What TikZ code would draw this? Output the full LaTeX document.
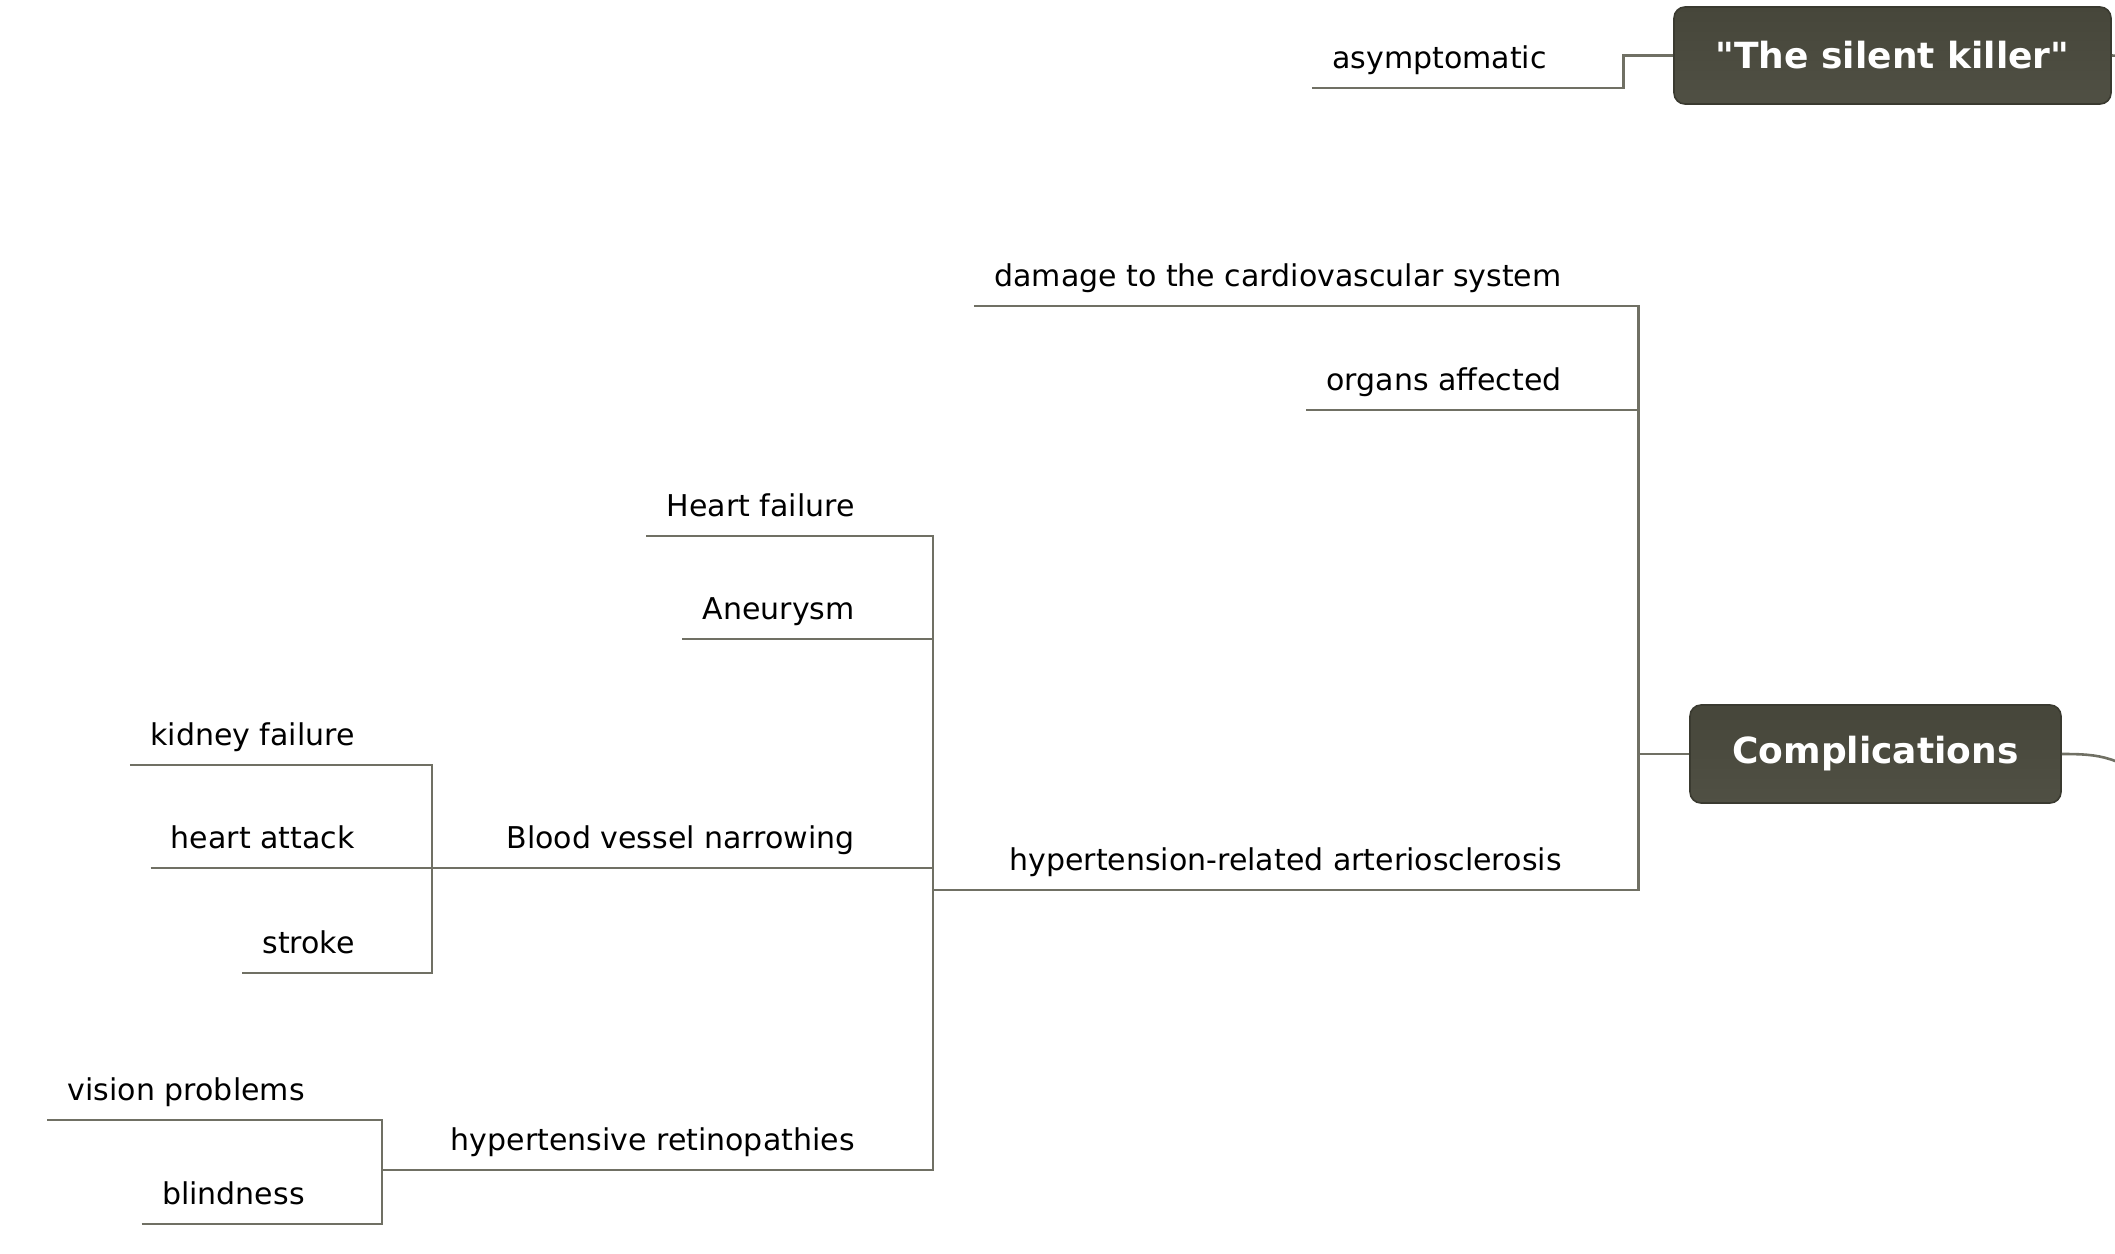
\documentclass[tikz,border=0pt]{standalone}
\usepackage{fontspec}
\setmainfont{DejaVu Sans}[Ligatures=TeXOff]
\definecolor{linkcol}{HTML}{707064}
\definecolor{boxtop}{HTML}{46463A}
\definecolor{boxmid}{HTML}{707062}
\definecolor{boxbot}{HTML}{505044}
\definecolor{boxrim}{HTML}{3A3A30}
\tikzset{
  link/.style={draw=linkcol, line width=1.3pt},
  topic/.style={font=\fontsize{15}{18}\selectfont, inner sep=0pt, anchor=base east},
  mainbox/.style={draw=boxrim, line width=0.8pt, rounded corners=5.5pt,
    top color=boxtop, middle color=boxmid, bottom color=boxbot,
    text=white, font=\fontsize{18}{22}\selectfont\bfseries, inner sep=0pt}
}
\begin{document}
\begin{tikzpicture}[x=0.5pt,y=-0.5pt]
        \useasboundingbox (0,0) rectangle (2115,1253);
        %% main boxes
        \node[mainbox, minimum width=218.5pt, minimum height=48.5pt] (killer) at (1892.5,55.5) {"The silent killer"};
        \node[mainbox, minimum width=185.5pt, minimum height=49pt] (compl) at (1875.5,754) {\raisebox{-1.5pt}{Complications}};
        %% joints where sub-branches meet
        \coordinate (arterio-k) at (933,890);
        \coordinate (vessel-k) at (432,868);
        \coordinate (retino-k) at (382,1170);
        %% topics
        \node[topic] (asym) at (1547,68) {asymptomatic};
        \node[topic] (dmg) at (1562,286) {damage to the cardiovascular system};
        \node[topic] (organs) at (1562,390) {organs affected};
        \node[topic] (arterio) at (1562,870) {hypertension-related arteriosclerosis};
        \node[topic] (hfail) at (855,516) {Heart failure};
        \node[topic] (aneur) at (855,619) {Aneurysm};
        \node[topic] (vessel) at (855,848) {Blood vessel narrowing};
        \node[topic] (retino) at (855,1150) {hypertensive retinopathies};
        \node[topic] (kidney) at (355,745) {kidney failure};
        \node[topic] (hattack) at (355,848) {heart attack};
        \node[topic] (stroke) at (355,953) {stroke};
        \node[topic] (vision) at (305,1100) {vision problems};
        \node[topic] (blind) at (305,1204) {blindness};
        %% first level
        \draw[link] ([shift={(-10pt,-10pt)}]asym.base west) -| ([xshift=-25pt]killer.west) -- (killer.west);
        \draw[link] ([shift={(-10pt,-10pt)}]dmg.base west) -| ([xshift=-25.5pt]compl.west) -- (compl.west);
        \draw[link] ([shift={(-10pt,-10pt)}]organs.base west) -| ([xshift=-25.5pt]compl.west) -- (compl.west);
        \draw[link] (arterio-k) -| ([xshift=-25.5pt]compl.west) -- (compl.west);
        %% second level
        \draw[link] ([shift={(-10pt,-10pt)}]hfail.base west) -| (arterio-k);
        \draw[link] ([shift={(-10pt,-10pt)}]aneur.base west) -| (arterio-k);
        \draw[link] (vessel-k) -| (arterio-k);
        \draw[link] (retino-k) -| (arterio-k);
        %% third level
        \draw[link] ([shift={(-10pt,-10pt)}]kidney.base west) -| (vessel-k);
        \draw[link] ([shift={(-10pt,-10pt)}]hattack.base west) -| (vessel-k);
        \draw[link] ([shift={(-10pt,-10pt)}]stroke.base west) -| (vessel-k);
        \draw[link] ([shift={(-10pt,-10pt)}]vision.base west) -| (retino-k);
        \draw[link] ([shift={(-10pt,-10pt)}]blind.base west) -| (retino-k);
        %% stubs towards the centre, off the page
        \draw[link] (killer.east) .. controls (2130,55.5) and (2150,70) .. (2170,110);
        \draw[link] (compl.east) .. controls (2100,754) and (2120,756) .. (2160,790);
    \end{tikzpicture}
\end{document}
